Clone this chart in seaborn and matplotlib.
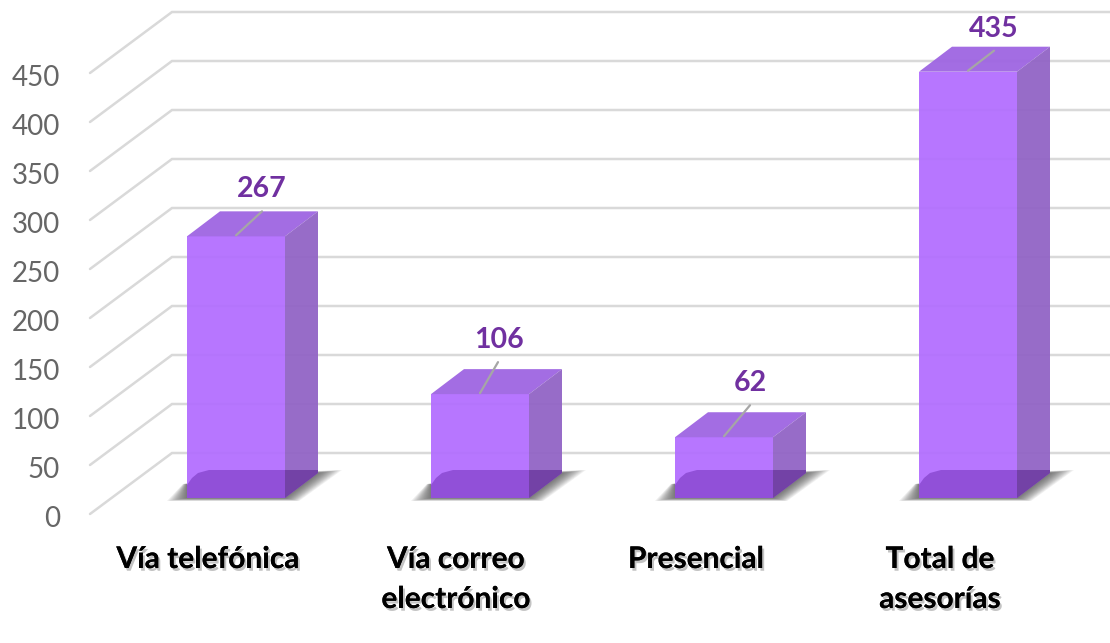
import matplotlib
matplotlib.use("Agg")
import matplotlib.pyplot as plt
import matplotlib.patheffects as pe
from matplotlib.patches import Polygon
import seaborn as sns

categories = ["Vía telefónica", "Vía correo\nelectrónico", "Presencial", "Total de\nasesorías"]
values = [267, 106, 62, 435]
tick_values = [0, 50, 100, 150, 200, 250, 300, 350, 400, 450]

# layout in pixels, the data scale is fixed by these
W, H = 1110, 643
PX_PER_UNIT = 0.98
BASE_Y = 498
FIRST_X = 236
STEP_X = 244
BAR_W = 98
DEPTH = (33, 25)
WALL = (82, 61)
FRONT_OFFSET = (-146, 16)   # left end of the front floor edge, from first bar

sns.set_theme(style="white")
plt.rcParams["font.family"] = ["Lato", "DejaVu Sans"]


def dx(px):
    return px / STEP_X


def dy(px):
    return px / PX_PER_UNIT


fig = plt.figure(figsize=(W / 100, H / 100), dpi=100)
ax = fig.add_axes([0, 0, 1, 1])
sns.barplot(x=list(range(4)), y=values, width=BAR_W / STEP_X, color="#B26CFF",
            saturation=1, alpha=0.93, linewidth=0, ax=ax, zorder=3)
ax.set_xlim(-FIRST_X / STEP_X, (W - FIRST_X) / STEP_X)
ax.set_ylim(dy(BASE_Y - H), dy(BASE_Y))
ax.set_axis_off()

# wall and floor grid
x_front = dx(FRONT_OFFSET[0])
for v in tick_values:
    y_front = v - dy(FRONT_OFFSET[1])
    y_wall = y_front + dy(WALL[1])
    ax.plot([x_front, x_front + dx(WALL[0]), ax.get_xlim()[1]], [y_front, y_wall, y_wall],
            color="#D9D9D9", lw=1.8, zorder=1, solid_joinstyle="miter")

tick_x = dx(60 - FIRST_X)
for v in tick_values:
    ax.text(tick_x, v - dy(FRONT_OFFSET[1]) - dy(5), str(v), ha="right", va="center",
            fontsize=20, color="#666666", zorder=6)


def poly(points, color, alpha=1.0, z=3):
    ax.add_patch(Polygon(points, closed=True, facecolor=color, edgecolor="none", alpha=alpha, zorder=z))


leaders = [(26, 25), (18, 32), (26, 32), (26, 21)]
label_dx = [26, 19, 26, 26]
label_shift = [-28, -24, -28, -28]

for bar, val, cat, lead, lab_x, shift in zip(ax.patches, values, categories, leaders, label_dx, label_shift):
    x0, x1 = bar.get_x(), bar.get_x() + bar.get_width()
    xc = (x0 + x1) / 2
    ddx, ddy = dx(DEPTH[0]), dy(DEPTH[1])

    # soft floor shadow, many faint passes for the blur
    for i in range(14):
        g = 1 - i / 14
        poly([(x0 - dx(20 * g), -dy(3 * g)), (x0 - dx(4 * g), dy(14)), (x1 + ddx, ddy + dy(2 * g)),
              (x1 + ddx + dx(24 * g), ddy + dy(3 * g)), (x1 + dx(14 * g), -dy(3 * g))],
             "#3A3A3A", 0.07, z=2)

    # top and side faces
    poly([(x0, val), (x0 + ddx, val + ddy), (x1 + ddx, val + ddy), (x1, val)], "#A068E2", 0.97)
    poly([(x1, 0), (x1 + ddx, ddy), (x1 + ddx, val + ddy), (x1, val)], "#9366C6", 0.96)

    # darker band where the bar meets the floor
    band = min(dy(28), val)
    poly([(x0, 0), (x0, dy(13)), (x0 + dx(5), dy(20)), (x0 + dx(11), dy(25)), (x0 + dx(22), band),
          (x1, band), (x1, 0)], "#9150D8", 1, z=4)
    poly([(x1, 0), (x1, band), (x1 + ddx, band), (x1 + ddx, ddy)], "#7342A6", 1, z=4)

    # leader line and value label
    ax.plot([xc, xc + dx(lead[0])], [val + dy(1), val + dy(lead[1])], color="#A6A6A6", lw=1.6, zorder=5)
    ax.text(xc + dx(lab_x), val + dy(lead[1] + 22), str(val), ha="center", va="center",
            fontsize=20.5, fontweight="bold", color="#7030A0", zorder=6)

    # category label with a drop shadow
    ax.text(xc + dx(shift), -dy(47), cat, ha="center", va="top", fontsize=21.5, fontweight="bold",
            color="black", linespacing=1.52, zorder=6,
            path_effects=[pe.withSimplePatchShadow(offset=(1.5, -2), shadow_rgbFace="#555555", alpha=0.35),
                          pe.Normal()])

fig.savefig("out.png", dpi=100)
